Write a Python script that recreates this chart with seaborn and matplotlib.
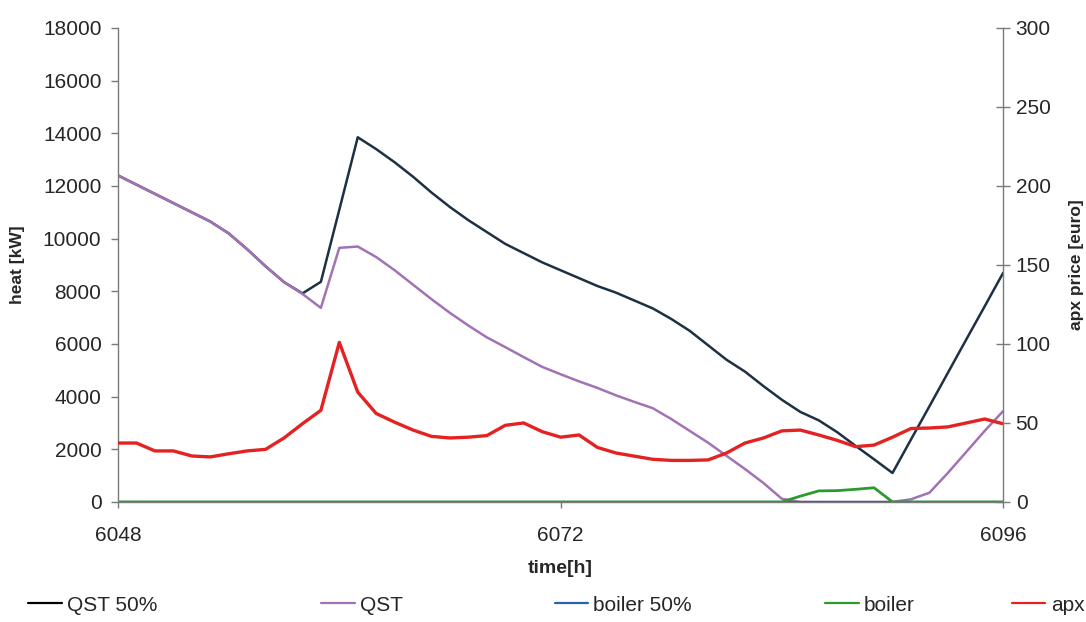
import matplotlib
matplotlib.use("Agg")
import matplotlib.pyplot as plt
from matplotlib.lines import Line2D
import pandas as pd
import seaborn as sns

# hourly time axis
hours = list(range(6048, 6097))

qst = [12400, 12050, 11700, 11350, 11000, 10650, 10200, 9600, 8950, 8350,
       7900, 7370, 9650, 9700, 9300, 8800, 8250, 7700, 7180, 6700,
       6250, 5880, 5500, 5130, 4850, 4580, 4330, 4050, 3800, 3560,
       3150, 2700, 2250, 1750, 1250, 720, 120, 0, 0, 0,
       0, 0, 0, 100, 350, 1100, 1900, 2700, 3450]

qst_50 = [12400, 12050, 11700, 11350, 11000, 10650, 10200, 9600, 8950, 8350,
          7920, 8360, 11100, 13850, 13400, 12900, 12350, 11750, 11200, 10700,
          10250, 9800, 9450, 9100, 8800, 8500, 8200, 7950, 7650, 7350,
          6950, 6500, 5950, 5400, 4950, 4400, 3880, 3420, 3100, 2650,
          2130, 1620, 1100, 2370, 3630, 4900, 6170, 7430, 8700]

boiler_50 = [0] * 49

boiler = [0, 0, 0, 0, 0, 0, 0, 0, 0, 0,
          0, 0, 0, 0, 0, 0, 0, 0, 0, 0,
          0, 0, 0, 0, 0, 0, 0, 0, 0, 0,
          0, 0, 0, 0, 0, 0, 0, 220, 420, 430,
          480, 540, 0, 0, 0, 0, 0, 0, 0]

apx = [37.3, 37.3, 32.3, 32.3, 29.1, 28.5, 30.5, 32.3, 33.3, 40.5,
       49.5, 58.0, 101.0, 69.5, 56.0, 50.5, 45.5, 41.5, 40.5, 41.0,
       42.0, 48.5, 50.0, 44.5, 41.0, 42.4, 34.5, 31.0, 29.0, 27.0,
       26.3, 26.3, 26.6, 31.0, 37.3, 40.5, 45.0, 45.5, 42.4, 39.0,
       35.0, 36.0, 41.0, 46.5, 46.8, 47.5, 50.0, 52.5, 49.5]

x_ticks = [6048, 6072, 6096]
heat_ticks = list(range(0, 18001, 2000))
price_ticks = list(range(0, 301, 50))

series_names = ["QST 50%", "QST", "boiler 50%", "boiler", "apx"]
colors = {"QST 50%": "#1e3044", "QST": "#a173b4", "boiler 50%": "#2a62a8",
          "boiler": "#2e9a2e", "apx": "#e42222"}
widths = {"QST 50%": 1.8, "QST": 1.8, "boiler 50%": 1.6, "boiler": 2.0, "apx": 2.4}

df = pd.DataFrame({"time": hours, "QST 50%": qst_50, "QST": qst,
                   "boiler 50%": boiler_50, "boiler": boiler, "apx": apx})

sns.set_theme(style="white")
plt.rcParams["font.family"] = ["Liberation Sans", "DejaVu Sans"]

fig = plt.figure(figsize=(10.86, 6.22), dpi=100)
ax = fig.add_axes([0.1087, 0.193, 0.815, 0.762])

for name in ["QST 50%", "QST", "boiler 50%", "boiler"]:
    sns.lineplot(data=df, x="time", y=name, ax=ax, color=colors[name],
                 linewidth=widths[name], legend=False)

ax2 = ax.twinx()
sns.lineplot(data=df, x="time", y="apx", ax=ax2, color=colors["apx"],
             linewidth=widths["apx"], legend=False)

ax.set_xlim(6048, 6096)
ax.set_ylim(0, 18000)
ax2.set_ylim(0, 300)
ax.set_xticks(x_ticks)
ax.set_yticks(heat_ticks)
ax2.set_yticks(price_ticks)

axis_grey = "#7a7a7a"
for a in (ax, ax2):
    a.spines["top"].set_visible(False)
    for s in a.spines.values():
        s.set_color(axis_grey)
        s.set_linewidth(1.0)
ax.spines["right"].set_visible(False)
ax2.spines["left"].set_visible(False)
ax2.spines["bottom"].set_visible(False)

tick_size = 15
ax.tick_params(axis="y", direction="out", length=5, width=1, color=axis_grey,
               labelsize=tick_size, pad=7, left=True)
ax.tick_params(axis="x", direction="out", length=4, width=1, color=axis_grey,
               labelsize=tick_size, pad=13, bottom=True)
ax2.tick_params(axis="y", direction="inout", length=10, width=1, color=axis_grey,
                labelsize=tick_size, pad=4, right=True)

ax.set_xlabel("time[h]", fontsize=14, fontweight="bold", labelpad=11)
ax.set_ylabel("heat [kW]", fontsize=12.5, fontweight="bold", labelpad=13)
ax2.set_ylabel("apx price [euro]", fontsize=12.5, fontweight="bold", labelpad=13)
ax.grid(False)
ax2.grid(False)

# legend entries laid out along the bottom of the figure
legend_x = [0.026, 0.296, 0.511, 0.760, 0.932]
for name, lx in zip(series_names, legend_x):
    handle = Line2D([], [], color="#000000" if name == "QST 50%" else colors[name],
                    linewidth=1.6)
    fig.legend([handle], [name], loc="center left", bbox_to_anchor=(lx, 0.027),
               frameon=False, fontsize=15, handlelength=1.6, handletextpad=0.25,
               borderaxespad=0, borderpad=0)

fig.savefig("out.png", dpi=100)
